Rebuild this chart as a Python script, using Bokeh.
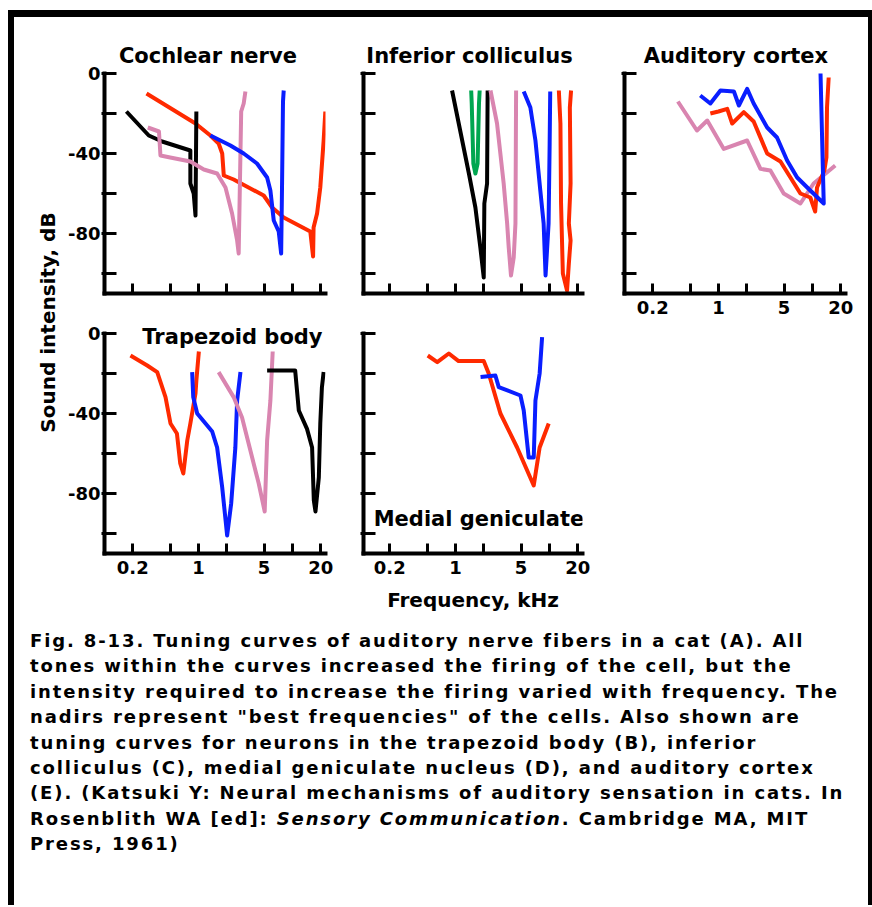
import math
from bokeh.plotting import figure
from bokeh.models import FixedTicker, Label, Div
from bokeh.layouts import row, column
from bokeh.embed import file_html
from bokeh.resources import INLINE

FONT = "DejaVu Sans"
RED = "#ff2a00"
BLUE = "#0a1eff"
PINK = "#d985b0"
GREEN = "#00a650"
BLACK = "#000000"

# ---------------- axis ticks ----------------
freq_ticks = [0.2, 0.5, 1, 2, 5, 10, 20]
freq_labels = {0.2: "0.2", 0.5: "", 1: "1", 2: "", 5: "5", 10: "", 20: "20"}
db_ticks = [0, -20, -40, -60, -80, -100]
db_labels = {0: "0", -20: "", -40: "-40", -60: "", -80: "-80", -100: ""}

# ---------------- Cochlear nerve ----------------
cn_black_khz = [0.171, 0.296, 0.41, 0.82, 0.82, 0.89, 0.93, 0.95]
cn_black_db = [-19, -31, -34, -38.5, -55, -60, -71, -19]
cn_pink_khz = [0.289, 0.38, 0.394, 0.5, 0.82, 1.14, 1.58, 1.94, 2.28, 2.58, 2.68, 2.85, 3.03, 3.16]
cn_pink_db = [-27, -29, -41, -42, -44, -48, -50, -57, -70, -83.5, -90, -19, -15, -9]
cn_blue_khz = [1.34, 2.19, 3.03, 4.2, 5.38, 5.83, 6.33, 7.15, 7.59, 7.76, 7.94, 8.08]
cn_blue_db = [-31, -36, -40, -45, -52, -58.5, -73.5, -79, -90, -55, -14, -8.5]
cn_red_khz = [0.28, 0.93, 1.34, 1.64, 1.79, 1.86, 2.37, 4.95, 6.08, 8.08, 15.5, 16.6, 16.8, 18.3, 19.8, 21.5, 22.4]
cn_red_db = [-10, -25, -31, -35, -40, -51, -53, -61, -67, -72, -79, -91.5, -77, -70, -57, -33.5, -19]

# ---------------- Inferior colliculus ----------------
ic_black_khz = [0.92, 1.39, 1.63, 1.84, 2.0, 2.03, 2.17, 2.2]
ic_black_db = [-8.5, -50, -67, -87, -102, -65, -55, -8.5]
ic_green_khz = [1.47, 1.49, 1.55, 1.63, 1.72, 1.78, 1.81]
ic_green_db = [-8.5, -15, -45, -50, -45, -15, -8.5]
ic_pink_khz = [2.36, 2.77, 3.26, 3.55, 3.69, 3.9, 4.17, 4.35, 4.42]
ic_pink_db = [-8.5, -25, -55, -75, -87, -101, -92, -75, -8.5]
ic_blue_khz = [5.33, 6.27, 7.1, 8.0, 8.68, 9.1, 9.8, 10.06, 10.2]
ic_blue_db = [-9, -17, -33.5, -58.5, -75, -101, -75, -35, -9]
ic_red_khz = [12.6, 13.1, 13.3, 13.9, 15.4, 16.1, 16.8, 16.1, 16.8, 16.5, 17.0]
ic_red_db = [-8.5, -25, -65, -100, -108.5, -95, -83.5, -75, -55, -17, -8.5]

# ---------------- Auditory cortex ----------------
ac_blue_khz = [0.64, 0.82, 1.05, 1.46, 1.65, 2.02, 2.37, 3.3, 4.2, 5.38, 6.88, 9.5, 13.2, 12.7, 12.2]
ac_blue_db = [-11, -15, -8.5, -9, -16, -7.7, -15, -27, -32, -43.5, -52, -58.5, -65, -33.5, 0]
ac_red_khz = [0.82, 1.0, 1.24, 1.4, 1.86, 2.37, 3.3, 4.57, 7.45, 9.5, 10.7, 11.2, 13.4, 14.1, 14.3, 14.9]
ac_red_db = [-20, -19, -17.7, -25, -19.3, -24, -40, -44, -60, -62, -69, -57, -48.5, -42, -17, -2]
ac_pink_khz = [0.37, 0.59, 0.76, 1.14, 2.02, 2.8, 3.57, 4.95, 7.45, 10.3, 17.5]
ac_pink_db = [-14, -28.5, -23.5, -37.7, -33.5, -47.7, -48.5, -60, -65, -55, -46]

# ---------------- Trapezoid body ----------------
tb_red_khz = [0.189, 0.285, 0.364, 0.446, 0.504, 0.59, 0.64, 0.69, 0.76, 0.82, 0.93, 0.95, 1.01]
tb_red_db = [-11, -16, -19.3, -31.8, -45, -50, -65, -70, -53.5, -45, -30, -23.5, -9]
tb_blue_khz = [0.857, 0.88, 0.97, 1.4, 1.58, 1.79, 2.02, 2.23, 2.47, 2.58, 2.8]
tb_blue_db = [-19.3, -31.8, -40, -49, -57, -77, -101, -85, -57, -33.5, -19.3]
tb_pink_khz = [1.64, 2.37, 2.91, 3.57, 4.38, 5.07, 5.38, 5.83, 6.17]
tb_pink_db = [-19.3, -31.8, -42, -58.5, -75, -89, -53.5, -33.5, -9]
tb_black_khz = [5.38, 10.7, 11.7, 14.3, 16.2, 16.9, 17.6, 19.1, 19.8, 20.6, 21.5]
tb_black_db = [-18.5, -18.5, -38.5, -47.7, -57, -83.5, -89, -72, -45, -27, -19.3]

# ---------------- Medial geniculate ----------------
mg_red_khz = [0.507, 0.64, 0.85, 1.08, 2.0, 2.26, 3.01, 4.53, 6.81, 7.87, 9.83]
mg_red_db = [-11, -14.3, -10, -13.8, -13.8, -20, -40, -57, -76, -57, -45]
mg_blue_khz = [1.85, 2.66, 2.89, 4.92, 5.33, 6.02, 6.81, 7.1, 7.87, 8.36]
mg_blue_db = [-21.8, -21, -26.8, -31, -38.5, -62, -62, -33.5, -20, -1.8]

caption_lines = [
    "Fig. 8-13. Tuning curves of auditory nerve fibers in a cat (A). All",
    "tones within the curves increased the firing of the cell, but the",
    "intensity required to increase the firing varied with frequency. The",
    "nadirs represent \"best frequencies\" of the cells. Also shown are",
    "tuning curves for neurons in the trapezoid body (B), inferior",
    "colliculus (C), medial geniculate nucleus (D), and auditory cortex",
    "(E). (Katsuki Y: Neural mechanisms of auditory sensation in cats. In",
    "Rosenblith WA [ed]: <i>Sensory Communication</i>. Cambridge MA, MIT",
    "Press, 1961)",
]


def panel(width, height, left, right, top, bottom, xstart, ytop, show_x, show_y):
    p = figure(width=width, height=height, x_axis_type="log",
               x_range=(xstart, 22.5), y_range=(-110, ytop),
               min_border_left=left, min_border_right=right,
               min_border_top=top, min_border_bottom=bottom,
               output_backend="svg", toolbar_location=None)
    p.grid.visible = False
    p.outline_line_color = None
    p.background_fill_color = "white"
    p.border_fill_color = "white"
    for ax in p.axis:
        ax.axis_line_width = 4
        ax.axis_line_color = "black"
        ax.axis_line_cap = "square"
        ax.major_tick_line_width = 3
        ax.major_tick_line_color = "black"
        ax.minor_tick_line_color = None
        ax.major_label_text_font = FONT
        ax.major_label_text_font_style = "bold"
        ax.major_label_text_font_size = "18px"
        ax.major_label_text_color = "black"
    p.xaxis.ticker = FixedTicker(ticks=freq_ticks)
    p.xaxis.major_tick_in = 10
    p.xaxis.major_tick_out = 1
    p.xaxis.major_label_standoff = 6
    p.xaxis.major_label_overrides = dict(freq_labels) if show_x else {t: "" for t in freq_ticks}
    p.yaxis.ticker = FixedTicker(ticks=db_ticks)
    p.yaxis.bounds = (-110, 0)
    p.yaxis.major_tick_in = 12
    p.yaxis.major_tick_out = 3
    p.yaxis.major_label_standoff = 1
    p.yaxis.major_label_overrides = dict(db_labels) if show_y else {t: "" for t in db_ticks}
    return p


def curve(p, xs, ys, color):
    p.line(xs, ys, line_color=color, line_width=4, line_join="round")


def title(p, x, y, text):
    p.add_layout(Label(x=x, y=y, text=text, text_align="center",
                       text_baseline="alphabetic", text_font=FONT,
                       text_font_style="bold", text_font_size="21px",
                       text_color="black"))


# Panels (top row: frame from +18 dB so the titles sit inside the frame)
pA = panel(275, 288, 44, 10, 20, 12, 0.1, 18, False, True)
curve(pA, cn_red_khz, cn_red_db, RED)
curve(pA, cn_black_khz, cn_black_db, BLACK)
curve(pA, cn_pink_khz, cn_pink_db, PINK)
curve(pA, cn_blue_khz, cn_blue_db, BLUE)
title(pA, 1.26, 9, "Cochlear nerve")

pC = panel(262, 288, 28, 15, 20, 12, 0.105, 18, False, False)
curve(pC, ic_black_khz, ic_black_db, BLACK)
curve(pC, ic_green_khz, ic_green_db, GREEN)
curve(pC, ic_pink_khz, ic_pink_db, PINK)
curve(pC, ic_blue_khz, ic_blue_db, BLUE)
curve(pC, ic_red_khz, ic_red_db, RED)
title(pC, 1.41, 9, "Inferior colliculus")

pE = panel(271, 310, 27, 23, 20, 34, 0.1, 18, True, False)
curve(pE, ac_pink_khz, ac_pink_db, PINK)
curve(pE, ac_red_khz, ac_red_db, RED)
curve(pE, ac_blue_khz, ac_blue_db, BLUE)
title(pE, 1.535, 9, "Auditory cortex")

pB = panel(275, 318, 44, 10, 8, 70, 0.1, 10, True, True)
curve(pB, tb_red_khz, tb_red_db, RED)
curve(pB, tb_blue_khz, tb_blue_db, BLUE)
curve(pB, tb_pink_khz, tb_pink_db, PINK)
curve(pB, tb_black_khz, tb_black_db, BLACK)
title(pB, 2.30, -1.5, "Trapezoid body")

pD = panel(262, 318, 28, 15, 8, 70, 0.105, 10, True, False)
curve(pD, mg_red_khz, mg_red_db, RED)
curve(pD, mg_blue_khz, mg_blue_db, BLUE)
title(pD, 1.78, -92.5, "Medial geniculate")
pD.xaxis.axis_label = "Frequency, kHz"
pD.xaxis.axis_label_text_font = FONT
pD.xaxis.axis_label_text_font_style = "bold"
pD.xaxis.axis_label_text_font_size = "20px"
pD.xaxis.axis_label_text_color = "black"
pD.xaxis.axis_label_standoff = 11

# y-axis title column
ylab = figure(width=46, height=606, x_range=(0, 46), y_range=(0, 606),
              min_border=0, output_backend="svg", toolbar_location=None)
ylab.axis.visible = False
ylab.grid.visible = False
ylab.outline_line_color = None
ylab.add_layout(Label(x=33, y=301, text="Sound intensity, dB", angle=math.pi / 2,
                      text_align="center", text_baseline="middle", text_font=FONT,
                      text_font_style="bold", text_font_size="20px", text_color="black"))

caption_html = ('<div style="padding:5px 0 0 16px; font-family:\'DejaVu Sans\'; font-weight:bold; '
                'font-size:18px; letter-spacing:1.88px; line-height:25.4px; white-space:nowrap; color:#000;">'
                + "<br>".join(caption_lines) + "</div>")
caption = Div(text=caption_html, width=854, height=280, margin=0)

plots = row(column(pA, pB), column(pC, pD), column(pE))
body = row(ylab, plots)
main = column(body, caption)

left_gap = Div(text="", width=8, height=905, margin=0)
left_bar = Div(text="", width=6, height=888, margin=0, styles={"background-color": "black"})
right_bar = Div(text="", width=4, height=888, margin=0, styles={"background-color": "black"})
top_gap = Div(text="", width=864, height=10, margin=0)
top_bar = Div(text="", width=864, height=7, margin=0, styles={"background-color": "black"})

root = row(left_gap, column(top_gap, top_bar, row(left_bar, main, right_bar)))

with open("out.html", "w") as f:
    f.write(file_html(root, INLINE))
